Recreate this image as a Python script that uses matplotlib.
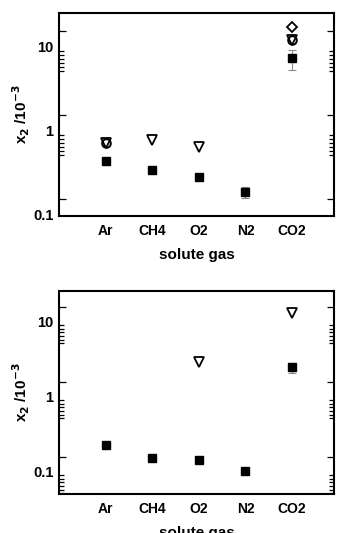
import numpy as np
import matplotlib
matplotlib.use("Agg")
import matplotlib.pyplot as plt
from matplotlib.ticker import FixedLocator, FixedFormatter, NullFormatter

plt.rcParams['font.family'] = ['Liberation Sans', 'DejaVu Sans']
plt.rcParams['font.weight'] = 'bold'
plt.rcParams['mathtext.default'] = 'bf'

gases = ["Ar", "CH4", "O2", "N2", "CO2"]

# Top panel
top_sq = [0.436, 0.343, 0.283, 0.186, 7.33]
top_sq_lo = [0.42, 0.325, 0.272, 0.158, 5.3]
top_sq_hi = [0.452, 0.362, 0.294, 0.213, 9.2]
top_circ_x = ["Ar", "CO2"]
top_circ = [0.706, 11.9]
top_tri_x = ["Ar", "CH4", "O2", "CO2"]
top_tri = [0.706, 0.77, 0.63, 11.9]
top_dia_x = ["CO2"]
top_dia = [17.2]

# Bottom panel
bot_sq = [0.225, 0.152, 0.142, 0.101, 2.45]
bot_sq_lo = [0.218, 0.140, 0.130, 0.098, 2.05]
bot_sq_hi = [0.232, 0.165, 0.155, 0.104, 2.85]
bot_tri_x = ["O2", "CO2"]
bot_tri = [2.9, 13.2]

ytick_vals = [0.1, 1, 10]
ytick_labels = ["0.1", "1", "10"]

fig = plt.figure(figsize=(3.42, 5.33), dpi=100)
ax1 = fig.add_axes([0.1725, 0.5953, 0.804, 0.3803])
ax2 = fig.add_axes([0.1725, 0.0741, 0.804, 0.3805])

pos = {g: i + 1 for i, g in enumerate(gases)}


def style(ax, ylim):
    ax.set_yscale('log')
    ax.set_ylim(*ylim)
    ax.set_xlim(0, 5.9)
    ax.set_xticks([pos[g] for g in gases])
    ax.set_xticklabels(gases, fontsize=10, fontweight='bold')
    ax.tick_params(axis='x', length=0, pad=6)
    ax.yaxis.set_major_locator(FixedLocator(ytick_vals))
    ax.yaxis.set_major_formatter(FixedFormatter(ytick_labels))
    minors = []
    for k in range(-2, 3):
        minors.append(10 ** (k + 0.19))
        for j in range(0, 7):
            minors.append(10 ** (k - 0.048 * j))
    ax.yaxis.set_minor_locator(FixedLocator(minors))
    ax.yaxis.set_minor_formatter(NullFormatter())
    ax.tick_params(axis='y', which='major', direction='in', length=0, pad=4,
                   labelsize=10.5, left=True, right=True)
    ax.tick_params(axis='y', which='minor', direction='in', length=3.5,
                   width=0.9, left=True, right=True)
    for lbl in ax.get_yticklabels():
        lbl.set_fontweight('bold')
    for s in ax.spines.values():
        s.set_linewidth(1.5)
    ax.set_xlabel("solute gas", fontsize=11, fontweight='bold', labelpad=7)
    ax.set_ylabel(r"x$_2$ /10$^{-3}$", fontsize=11, fontweight='bold', labelpad=1)


def add_long_ticks(ax):
    for t in ax.yaxis.get_minor_ticks():
        loc = t.get_loc()
        frac = np.log10(loc) - np.floor(np.log10(loc) + 1e-9)
        if abs(frac - 0.19) < 1e-3:
            t.tick1line.set_markersize(5)
            t.tick2line.set_markersize(5)


def errs(vals, lo, hi):
    v = np.array(vals)
    return [v - np.array(lo), np.array(hi) - v]


# top
x_sq = [pos[g] for g in gases]
ax1.errorbar(x_sq, top_sq, yerr=errs(top_sq, top_sq_lo, top_sq_hi), fmt='none',
             ecolor='#8a8a8a', elinewidth=0.8, capsize=3, capthick=0.8, zorder=2)
ax1.plot(x_sq, top_sq, 's', color='black', markersize=5.2, zorder=3)
ax1.plot([pos[g] for g in top_circ_x], top_circ, 'o', mfc='white', mec='black',
         mew=1.4, markersize=6.2, zorder=3)
ax1.plot([pos[g] for g in top_tri_x], top_tri, 'v', mfc='none', mec='black',
         mew=1.3, markersize=6.8, zorder=4)
ax1.plot([pos[g] for g in top_dia_x], top_dia, 'D', mfc='white', mec='black',
         mew=1.3, markersize=5.0, zorder=3)
style(ax1, (0.097, 25.2))

# bottom
ax2.errorbar(x_sq, bot_sq, yerr=errs(bot_sq, bot_sq_lo, bot_sq_hi), fmt='none',
             ecolor='#8a8a8a', elinewidth=0.8, capsize=3, capthick=0.8, zorder=2)
ax2.plot(x_sq, bot_sq, 's', color='black', markersize=5.2, zorder=3)
ax2.plot([pos[g] for g in bot_tri_x], bot_tri, 'v', mfc='white', mec='black',
         mew=1.3, markersize=6.8, zorder=4)
style(ax2, (0.051, 25.9))

fig.canvas.draw()
add_long_ticks(ax1)
add_long_ticks(ax2)

fig.savefig("out.png", dpi=100)
